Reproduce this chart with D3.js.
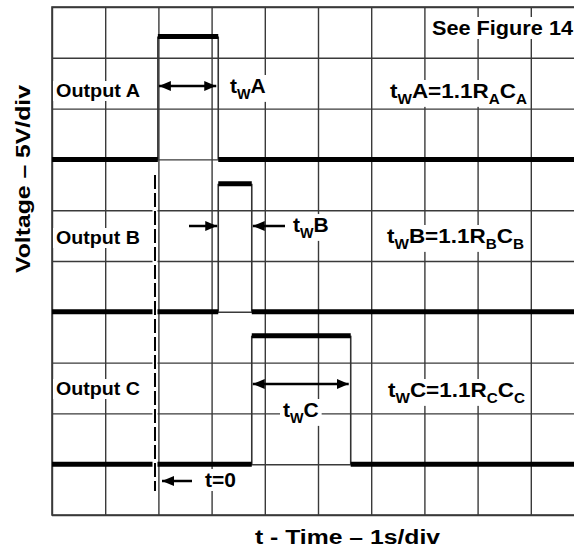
<!DOCTYPE html>
<html><head><meta charset="utf-8">
<script src="https://cdn.jsdelivr.net/npm/d3@7"></script>
<style>
body{margin:0;background:#fff}
svg{display:block}
text{font-family:"Liberation Sans",Arial,sans-serif;font-weight:bold;fill:#000}
</style>
</head><body><svg id="c" width="574" height="552"></svg>
<script>
// ---- data (time in s = divisions, voltage in divisions) ----
const channels = ["A", "B", "C"];
const lowLevel = [7, 4, 1];
const highLevel = [9.42, 6.52, 3.53];
const riseTime = [1.99, 3.125, 3.755];
const fallTime = [3.125, 3.755, 5.615];
const triggerTime = 1.936;
const xTicks = d3.range(0, 11);
const yTicks = d3.range(0, 11);
const xTitle = "t - Time – 1s/div";
const yTitle = "Voltage – 5V/div";
const noteText = "See Figure 14";

const svg = d3.select("#c");
const x = d3.scaleLinear().domain([0, 10]).range([52, 584]);
const y = d3.scaleLinear().domain([0, 10]).range([515, 7]);
const gridColor = "#3a3a3a";

// grid via axes
const gx = svg.append("g").attr("transform", `translate(0,${y(0)})`)
  .call(d3.axisBottom(x).tickValues(xTicks).tickSize(-(y(0) - y(10))).tickFormat(""));
const gy = svg.append("g").attr("transform", `translate(${x(0)},0)`)
  .call(d3.axisLeft(y).tickValues(yTicks).tickSize(-(x(10) - x(0))).tickFormat(""));
[gx, gy].forEach(g => {
  g.select(".domain").remove();
  g.selectAll(".tick line").attr("stroke", gridColor).attr("stroke-width", 1.4);
});
svg.append("rect").attr("x", x(0)).attr("y", y(10)).attr("width", x(10) - x(0)).attr("height", y(0) - y(10))
  .attr("fill", "none").attr("stroke", gridColor).attr("stroke-width", 1.6);

// traces
const traces = svg.append("g");
channels.forEach((c, i) => {
  const segs = [
    [0, riseTime[i], lowLevel[i]],
    [riseTime[i], fallTime[i], highLevel[i]],
    [fallTime[i], 10, lowLevel[i]]
  ];
  traces.selectAll(null).data([riseTime[i], fallTime[i]]).join("line")
    .attr("x1", d => x(d)).attr("x2", d => x(d))
    .attr("y1", y(lowLevel[i])).attr("y2", y(highLevel[i]))
    .attr("stroke", "#333").attr("stroke-width", 1.6);
  traces.selectAll(null).data(segs).join("line")
    .attr("x1", d => x(d[0])).attr("x2", d => x(d[1]))
    .attr("y1", d => y(d[2])).attr("y2", d => y(d[2]))
    .attr("stroke", "#000").attr("stroke-width", 5);
});

// trigger dashed line
svg.append("line").attr("x1", x(triggerTime)).attr("x2", x(triggerTime))
  .attr("y1", 175).attr("y2", 491)
  .attr("stroke", "#fff").attr("stroke-width", 5);
svg.append("line").attr("x1", x(triggerTime)).attr("x2", x(triggerTime))
  .attr("y1", 175).attr("y2", 491)
  .attr("stroke", "#000").attr("stroke-width", 2).attr("stroke-dasharray", "14,4");

// arrow markers
const defs = svg.append("defs");
defs.append("marker").attr("id", "ah").attr("viewBox", "0 0 12 10").attr("refX", 12).attr("refY", 5)
  .attr("markerWidth", 12).attr("markerHeight", 10).attr("markerUnits", "userSpaceOnUse").attr("orient", "auto-start-reverse")
  .append("path").attr("d", "M0,0 L12,5 L0,10 Z").attr("fill", "#000");

function arrow(x1, x2, yy, both) {
  const l = svg.append("line").attr("x1", x1).attr("x2", x2).attr("y1", yy).attr("y2", yy)
    .attr("stroke", "#000").attr("stroke-width", 2.5).attr("marker-end", "url(#ah)");
  if (both) l.attr("marker-start", "url(#ah)");
}
arrow(x(riseTime[0]) + 1, x(fallTime[0]) - 2, 86, true);
arrow(189, x(riseTime[1]) - 1, 226, false);
arrow(285, x(fallTime[1]) + 1, 226, false);
arrow(x(riseTime[2]) + 1, x(fallTime[2]) - 2, 384, true);
arrow(192, x(triggerTime) + 7, 481, false);

// labels with white backing boxes
const labelLayer = svg.append("g");
function label(parts, px, py, size, opts = {}) {
  const g = labelLayer.append("g");
  const t = g.append("text").attr("x", px).attr("y", py).attr("font-size", size)
    .attr("text-anchor", opts.anchor || "start");
  let sub = false;
  parts.forEach(([s, isSub]) => {
    const ts = t.append("tspan").text(s);
    if (isSub && !sub) { ts.attr("dy", size * 0.28).attr("font-size", size * 0.68); sub = true; }
    else if (isSub) { ts.attr("font-size", size * 0.68); }
    else if (!isSub && sub) { ts.attr("dy", -size * 0.28); sub = false; }
  });
  if (opts.len) t.attr("textLength", opts.len).attr("lengthAdjust", "spacingAndGlyphs");
  if (opts.rotate) t.attr("transform", `rotate(-90,${px},${py})`);
  if (opts.box !== false) {
    const b = t.node().getBBox();
    g.insert("rect", "text").attr("x", b.x - 3).attr("y", b.y + 1).attr("width", b.width + 6).attr("height", b.height - 1)
      .attr("fill", "#fff");
  }
  return t;
}
label([[noteText, 0]], 432, 35, 21, { len: 141 });
channels.forEach((c, i) => {
  label([["Output " + c, 0]], 56, [97, 244, 395][i], 19, { len: 84 });
  label([["t", 0], ["W", 1], [c + "=1.1R", 0], [c, 1], ["C", 0], [c, 1]], [390, 387, 388][i], [98, 243, 397][i], 21, { len: 137 });
});
label([["t", 0], ["W", 1], ["A", 0]], 230, 93, 21);
label([["t", 0], ["W", 1], ["B", 0]], 293, 232, 21);
label([["t", 0], ["W", 1], ["C", 0]], 283, 417, 21);
label([["t=0", 0]], 205, 487, 21);
label([[xTitle, 0]], 347.5, 544, 20, { anchor: "middle", len: 185, box: false });
svg.append("text").attr("font-size", 20).attr("text-anchor", "middle")
  .attr("transform", `translate(30,179) rotate(-90)`).attr("textLength", 188).attr("lengthAdjust", "spacingAndGlyphs")
  .text(yTitle);
</script>
</body></html>
